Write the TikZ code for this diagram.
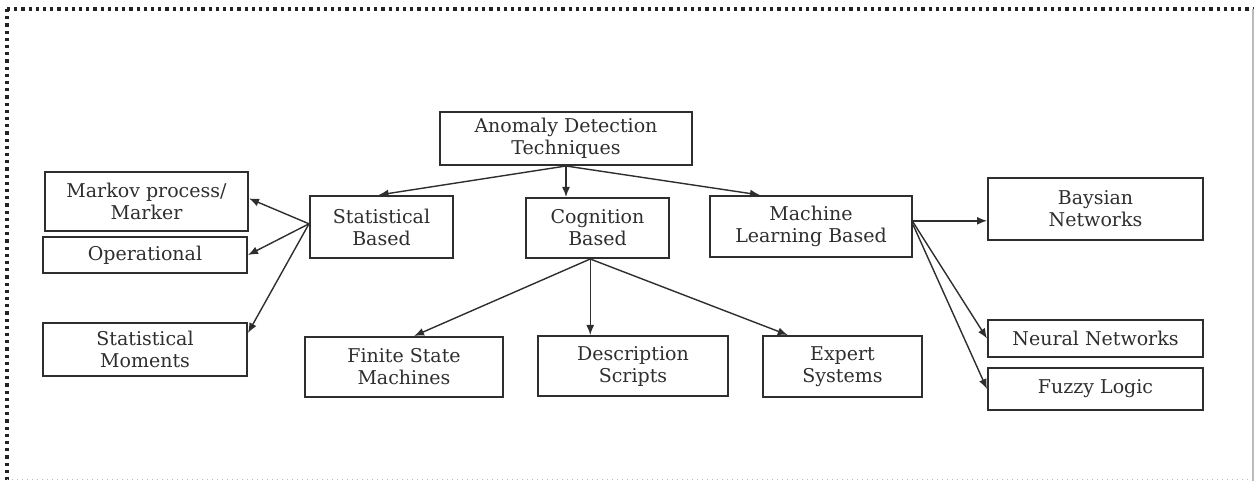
\documentclass[tikz,border=0pt]{standalone}
\usepackage{fontspec}
\setmainfont{DejaVu Serif}
\usetikzlibrary{arrows.meta,calc}
\definecolor{ink}{HTML}{2E2E2E}
\definecolor{frame}{HTML}{222222}
\definecolor{lightframe}{HTML}{BBBBBB}
\begin{document}
\begin{tikzpicture}[x=0.5pt,y=-0.5pt,
  box/.style={draw=ink, line width=1pt, align=center, inner sep=0pt, text=ink,
    font=\fontsize{9.5}{11}\selectfont},
  sz/.style 2 args={minimum width=#1*0.5pt, minimum height=#2*0.5pt},
  arr/.style={draw=ink, line width=0.7pt, -{Latex[length=5pt,width=4pt]}}]
\useasboundingbox (0,0) rectangle (1255,481);
% outer frame
\draw[frame, line width=1.6pt, dotted] (7,9) -- (1253,9);
\draw[frame, line width=1.6pt, dotted] (7,9) -- (7,481);
\draw[lightframe, line width=0.8pt] (1253,9) -- (1253,481);
\draw[lightframe, line width=0.5pt, dotted] (7,479.5) -- (1253,479.5);

% nodes
\node[box,sz={252}{53}] (anom) at (566,138.5) {Anomaly Detection\\Techniques};
\node[box,sz={143}{62}] (stat) at (381.5,227) {Statistical\\Based};
\node[box,sz={143}{60}] (cog) at (597.5,228) {Cognition\\Based};
\node[box,sz={202}{61}] (ml) at (811,226.5) {Machine\\Learning Based};
\node[box,sz={203}{59}] (markov) at (146.5,201.5) {Markov process/\\Marker};
\node[box,sz={204}{36}] (oper) at (145,255) {Operational};
\node[box,sz={204}{53}] (mom) at (145,349.5) {Statistical\\Moments};
\node[box,sz={198}{60}] (fsm) at (404,367) {Finite State\\Machines};
\node[box,sz={190}{60}] (desc) at (633,366) {Description\\Scripts};
\node[box,sz={159}{61}] (expert) at (842.5,366.5) {Expert\\Systems};
\node[box,sz={215}{62}] (bays) at (1095.5,209) {Baysian\\Networks};
\node[box,sz={215}{37}] (neural) at (1095.5,338.5) {Neural Networks};
\node[box,sz={215}{42}] (fuzzy) at (1095.5,389) {Fuzzy Logic};

% helper coordinates
\coordinate (statN) at ($(stat.north west)!0.48!(stat.north east)$);
\coordinate (mlN) at ($(ml.north west)!0.25!(ml.north east)$);
\coordinate (cs) at ($(cog.south west)!0.45!(cog.south east)$);
\coordinate (fsmN) at ($(fsm.north west)!0.55!(fsm.north east)$);
\coordinate (expN) at ($(expert.north west)!0.16!(expert.north east)$);
\coordinate (statW) at ($(stat.north west)!0.45!(stat.south west)$);
\coordinate (markE) at ($(markov.north east)!0.45!(markov.south east)$);
\coordinate (momE) at ($(mom.north east)!0.2!(mom.south east)$);
\coordinate (mlE1) at ($(ml.north east)!0.41!(ml.south east)$);
\coordinate (mlE2) at ($(ml.north east)!0.43!(ml.south east)$);
\coordinate (mlE3) at ($(ml.north east)!0.47!(ml.south east)$);

% connectors
\draw[arr] (anom.south) -- (statN);
\draw[arr] (anom.south) -- (cog.north -| anom.south);
\draw[arr] (anom.south) -- (mlN);
\draw[arr] (cs) -- (fsmN);
\draw[arr] (cs) -- (desc.north -| cs);
\draw[arr] (cs) -- (expN);
\draw[arr] (statW) -- (markE);
\draw[arr] (statW) -- (oper.east);
\draw[arr] (statW) -- (momE);
\draw[arr] (mlE1) -- (bays.west |- mlE1);
\draw[arr] (mlE2) -- (neural.west);
\draw[arr] (mlE3) -- (fuzzy.west);
\end{tikzpicture}
\end{document}
